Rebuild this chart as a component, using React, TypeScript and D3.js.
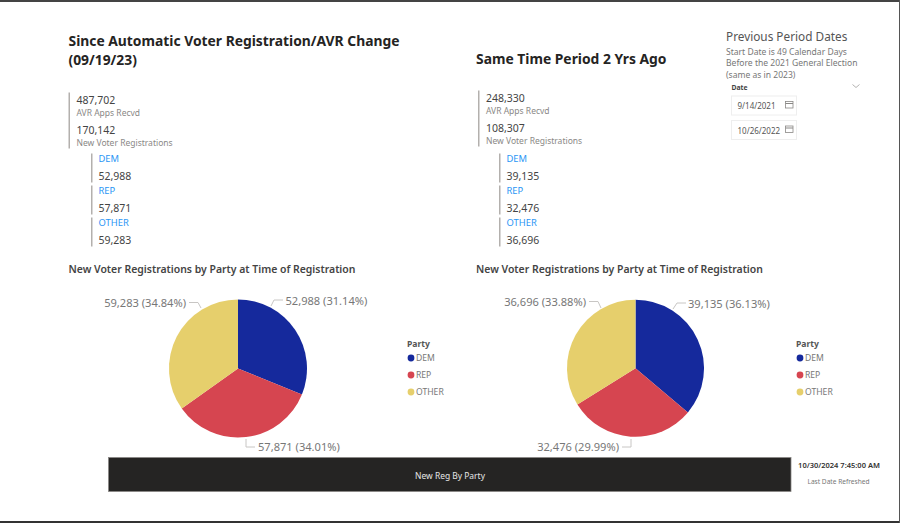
import React from "react";
import * as d3 from "d3";

const parties = ["DEM", "REP", "OTHER"];
const partyColors = ["#15299c", "#d64550", "#e6cf6c"];
const currentValues = [52988, 57871, 59283];
const currentPct = ["31.14%", "34.01%", "34.84%"];
const previousValues = [39135, 32476, 36696];
const previousPct = ["36.13%", "29.99%", "33.88%"];
const currentTotals = ["487,702", "170,142"];
const previousTotals = ["248,330", "108,307"];
const totalLabels = ["AVR Apps Recvd", "New Voter Registrations"];
const dates = ["9/14/2021", "10/26/2022"];
const noteLines = [
  "Start Date is 49 Calendar Days",
  "Before the 2021 General Election",
  "(same as in 2023)",
];

const FONT = "'Noto Sans', 'Open Sans', sans-serif";
const fmt = d3.format(",");

function Kpis({ x, y1, subX, totals, values }: { x: number; y1: number; subX: number; totals: string[]; values: number[] }) {
  const groupTops = [153.5, 185.5, 217.5];
  return (
    <g fontFamily={FONT}>
      <rect x={x} y={y1} width={1.5} height={56} fill="#b3b0ad" />
      {totals.map((t, i) => (
        <g key={t}>
          <text x={x + 8} y={y1 + 11.3 + i * 30.6} fontSize={10.5} fill="#444">{t}</text>
          <text x={x + 8} y={y1 + 23.3 + i * 30.6} fontSize={8.5} fill="#8a8886">{totalLabels[i]}</text>
        </g>
      ))}
      {values.map((v, i) => (
        <g key={parties[i]}>
          <rect x={subX} y={groupTops[i]} width={1.5} height={29} fill="#b3b0ad" />
          <text x={subX + 7.5} y={groupTops[i] + 8.7} fontSize={9.4} fill="#2b96f5">{parties[i]}</text>
          <text x={subX + 7.5} y={groupTops[i] + 26} fontSize={10.5} fill="#444">{fmt(v)}</text>
        </g>
      ))}
    </g>
  );
}

type LabelSpec = { tx: number; ty: number; anchor: string; line: [number, number][] };

function Pie({ cx, cy, r, values, pct, labels }: { cx: number; cy: number; r: number; values: number[]; pct: string[]; labels: LabelSpec[] }) {
  const arcs = d3.pie<number>().sort(null).startAngle(0).endAngle(2 * Math.PI)(values);
  const arc = d3.arc<d3.PieArcDatum<number>>().innerRadius(0).outerRadius(r);
  return (
    <g fontFamily={FONT}>
      <g transform={`translate(${cx},${cy})`}>
        {arcs.map((a, i) => (
          <path key={i} d={arc(a) ?? ""} fill={partyColors[i]} />
        ))}
      </g>
      {labels.map((l, i) => (
        <g key={i}>
          <path d={d3.line()(l.line) ?? ""} fill="none" stroke="#c8c6c4" strokeWidth={1} />
          <text x={l.tx} y={l.ty} textAnchor={l.anchor as "start" | "end"} fontSize={11.1} fill="#777">
            {`${fmt(values[i])} (${pct[i]})`}
          </text>
        </g>
      ))}
    </g>
  );
}

function Legend({ x }: { x: number }) {
  return (
    <g fontFamily={FONT}>
      <text x={x} y={347} fontSize={8.6} fontWeight={700} fill="#555">Party</text>
      {parties.map((p, i) => (
        <g key={p}>
          <circle cx={x + 4} cy={358 + i * 17} r={3.4} fill={partyColors[i]} />
          <text x={x + 9} y={361 + i * 17} fontSize={8.6} fill="#777">{p}</text>
        </g>
      ))}
    </g>
  );
}

function DateBox({ y, label }: { y: number; label: string }) {
  return (
    <g>
      <rect x={731.5} y={y} width={65} height={19} fill="#fff" stroke="#eeeeee" />
      <text x={737.5} y={y + 13} fontSize={8} fontFamily={FONT} fill="#555">{label}</text>
      <rect x={785.5} y={y + 5.5} width={7.5} height={6.5} fill="none" stroke="#8a8886" strokeWidth={0.8} />
      <line x1={785.5} x2={793} y1={y + 7.5} y2={y + 7.5} stroke="#8a8886" strokeWidth={1} />
    </g>
  );
}

export default function App() {
  return (
    <svg
      width={900}
      height={523}
      viewBox="0 0 900 523"
      style={{ position: "fixed", left: 0, top: 0, background: "#fff" }}
    >
      <rect x={0} y={0} width={900} height={2} fill="#444" />
      <rect x={0} y={521} width={900} height={2} fill="#333" />
      <rect x={899} y={0} width={1} height={523} fill="#555" />

      <g fontFamily={FONT} fontWeight={700} fontSize={13.85} fill="#252423">
        <text x={68.5} y={45.5}>Since Automatic Voter Registration/AVR Change</text>
        <text x={68.5} y={65}>(09/19/23)</text>
        <text x={476} y={64}>Same Time Period 2 Yrs Ago</text>
      </g>

      <g fontFamily={FONT} fontWeight={600} fontSize={10.45} fill="#444">
        <text x={68.5} y={273}>New Voter Registrations by Party at Time of Registration</text>
        <text x={476} y={273}>New Voter Registrations by Party at Time of Registration</text>
      </g>

      <Kpis x={68.5} y1={92.5} subX={91} totals={currentTotals} values={currentValues} />
      <Kpis x={478} y1={90.5} subX={499} totals={previousTotals} values={previousValues} />

      <g fontFamily={FONT}>
        <text x={726} y={41} fontSize={11.8} fill="#555">Previous Period Dates</text>
        {noteLines.map((t, i) => (
          <text key={t} x={726} y={54.5 + i * 11.6} fontSize={8.55} fill="#777">{t}</text>
        ))}
        <text x={731.5} y={89.5} fontSize={6.8} fontWeight={700} fill="#444">Date</text>
        <path d="M852.5,84.5 L856,87.5 L859.5,84.5" fill="none" stroke="#a19f9d" strokeWidth={0.8} />
      </g>
      {dates.map((d, i) => (
        <DateBox key={d} y={96 + i * 24.5} label={d} />
      ))}

      <Pie
        cx={238}
        cy={368.5}
        r={69}
        values={currentValues}
        pct={currentPct}
        labels={[
          { tx: 285.5, ty: 305, anchor: "start", line: [[271, 306], [274, 300], [283, 300]] },
          { tx: 258, ty: 451, anchor: "start", line: [[246, 439], [246, 447], [255, 447]] },
          { tx: 186, ty: 307, anchor: "end", line: [[189, 302.5], [198, 302.5], [201, 308]] },
        ]}
      />
      <Pie
        cx={635.5}
        cy={368.3}
        r={68.5}
        values={previousValues}
        pct={previousPct}
        labels={[
          { tx: 688, ty: 308, anchor: "start", line: [[673, 309], [677, 303], [686, 303]] },
          { tx: 619, ty: 451, anchor: "end", line: [[631, 439], [631, 447], [622, 447]] },
          { tx: 586, ty: 306, anchor: "end", line: [[589, 301.5], [598, 301.5], [601, 308]] },
        ]}
      />

      <Legend x={407} />
      <Legend x={796} />

      <rect x={108.5} y={457.5} width={682.5} height={34} fill="#252423" stroke="#8a8886" strokeWidth={0.8} />
      <text x={450} y={479} textAnchor="middle" fontFamily={FONT} fontSize={8.45} fill="#e6e6e6">New Reg By Party</text>

      <text x={839} y={468} textAnchor="middle" fontFamily={FONT} fontSize={7.5} fontWeight={600} fill="#333">10/30/2024 7:45:00 AM</text>
      <text x={838.5} y={484} textAnchor="middle" fontFamily={FONT} fontSize={6.6} fill="#777">Last Date Refreshed</text>
    </svg>
  );
}
